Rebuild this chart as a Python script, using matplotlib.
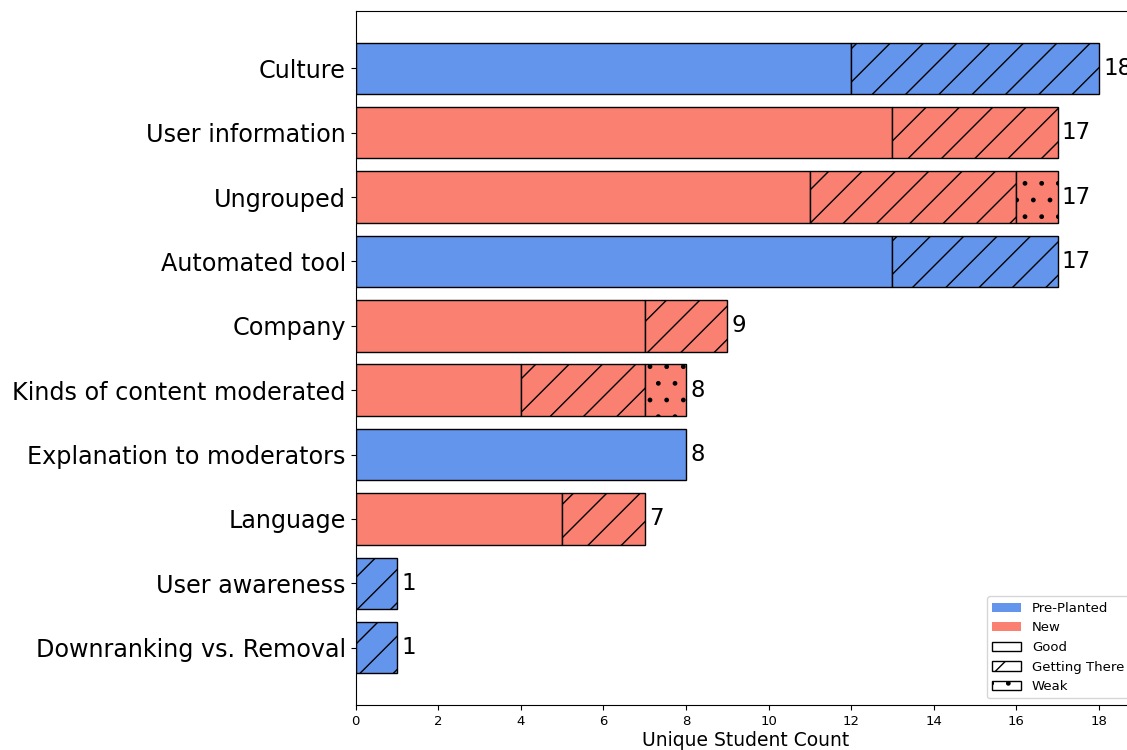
import matplotlib
matplotlib.use("Agg")
import matplotlib.pyplot as plt
from matplotlib.patches import Patch
import numpy as np

categories = [
    "Culture",
    "User information",
    "Ungrouped",
    "Automated tool",
    "Company",
    "Kinds of content moderated",
    "Explanation to moderators",
    "Language",
    "User awareness",
    "Downranking vs. Removal",
]
source = ["Pre-Planted", "New", "New", "Pre-Planted", "New",
          "New", "Pre-Planted", "New", "Pre-Planted", "Pre-Planted"]
good = [12, 13, 11, 13, 7, 4, 8, 5, 0, 0]
getting_there = [6, 4, 5, 4, 2, 3, 0, 2, 1, 1]
weak = [0, 0, 1, 0, 0, 1, 0, 0, 0, 0]

source_colors = {"Pre-Planted": "#6495ED", "New": "#FA8072"}
quality_levels = [("Good", good, ""), ("Getting There", getting_there, "/"), ("Weak", weak, ".")]

fig = plt.figure(figsize=(11.27, 7.5), dpi=100)
ax = fig.add_axes([0.3155, 0.06, 0.6925, 0.9253])

y = np.arange(len(categories))
for i, cat in enumerate(categories):
    color = source_colors[source[i]]
    left = 0
    for name, values, hatch in quality_levels:
        w = values[i]
        if w <= 0:
            continue
        ax.barh(y[i], w, left=left, height=0.8, color=color,
                edgecolor="black", linewidth=1.0, hatch=hatch)
        left += w
    ax.annotate(f"{left}", xy=(left, y[i]), xytext=(3, 0),
                textcoords="offset points", va="center", ha="left",
                fontsize=16.5)

ax.set_yticks(y)
ax.set_yticklabels(categories, fontsize=17.2)
ax.invert_yaxis()
ax.set_xlim(0, 18.9)
ax.set_xticks(np.arange(0, 20, 2))
ax.tick_params(axis="x", labelsize=9.5)
ax.set_xlabel("Unique Student Count", fontsize=13.5, labelpad=2)

handles = [
    Patch(facecolor=source_colors["Pre-Planted"], label="Pre-Planted"),
    Patch(facecolor=source_colors["New"], label="New"),
    Patch(facecolor="white", edgecolor="black", label="Good"),
    Patch(facecolor="white", edgecolor="black", hatch="/", label="Getting There"),
    Patch(facecolor="white", edgecolor="black", hatch=".", label="Weak"),
]
ax.legend(handles=handles, loc="lower right", fontsize=9.5, handlelength=2.2)

fig.savefig("out.png", dpi=100)
